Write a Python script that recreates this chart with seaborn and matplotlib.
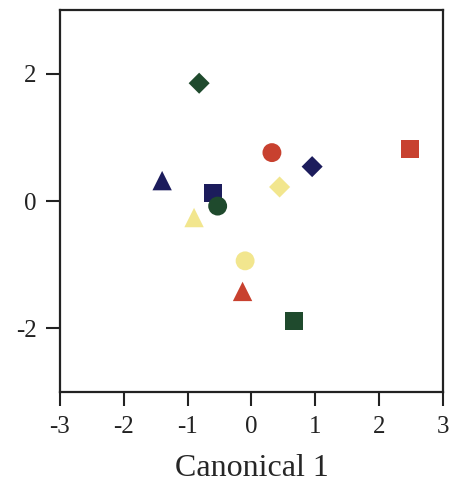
import pandas as pd
import matplotlib
matplotlib.use("Agg")
import matplotlib.pyplot as plt
import seaborn as sns

# canonical scores
group = ['red', 'red', 'red',
         'navy', 'navy', 'navy',
         'green', 'green', 'green',
         'yellow', 'yellow', 'yellow']
shape = ['circle', 'square', 'triangle',
         'diamond', 'triangle', 'square',
         'diamond', 'circle', 'square',
         'diamond', 'triangle', 'circle']
can1 = [0.32, 2.49, -0.14,
        0.95, -1.40, -0.61,
        -0.82, -0.53, 0.66,
        0.44, -0.90, -0.10]
can2 = [0.76, 0.81, -1.42,
        0.54, 0.32, 0.12,
        1.85, -0.08, -1.89,
        0.22, -0.26, -0.94]

df = pd.DataFrame({'group': group, 'shape': shape, 'Canonical 1': can1, 'Canonical 2': can2})

palette = {'red': '#c8412f', 'navy': '#1c1c5c', 'green': '#1f4a2d', 'yellow': '#f2e68e'}
markers = {'circle': 'o', 'square': 's', 'triangle': '^', 'diamond': 'D'}
sizes = {'circle': 185, 'square': 170, 'triangle': 195, 'diamond': 115}

sns.set_style('white')
plt.rcParams['font.family'] = ['Liberation Serif', 'DejaVu Serif']
plt.rcParams['axes.unicode_minus'] = False

fig = plt.figure(figsize=(4.6, 4.9), dpi=100)
ax = fig.add_axes([60 / 460, 98 / 490, 383 / 460, 382 / 490])

sns.scatterplot(data=df, x='Canonical 1', y='Canonical 2', hue='group', style='shape',
                size='shape', palette=palette, markers=markers, sizes=sizes,
                linewidth=0, legend=False, ax=ax)

ax.set_xlim(-3, 3)
ax.set_ylim(-3, 3)
ax.set_xticks([-3, -2, -1, 0, 1, 2, 3])
ax.set_yticks([-2, 0, 2])
ax.set_xlabel('Canonical 1', fontsize=23, labelpad=12)
ax.set_ylabel('')
ax.tick_params(axis='both', direction='out', length=10, width=1.5, labelsize=18,
               color='#222222', labelcolor='#222222', pad=7,
               bottom=True, left=True, top=False, right=False)
for s in ax.spines.values():
    s.set_linewidth(1.6)
    s.set_color('#222222')

fig.savefig('out.png', dpi=100)
